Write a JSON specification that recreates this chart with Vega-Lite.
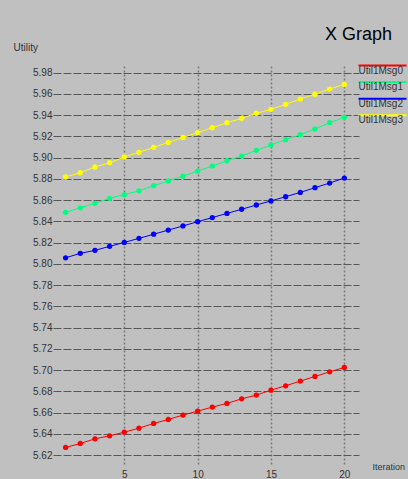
{
  "$schema": "https://vega.github.io/schema/vega-lite/v6.json",
  "width": 306,
  "height": 399,
  "autosize": {"type": "none"},
  "padding": {"left": 53, "top": 66, "right": 49, "bottom": 14},
  "background": "#c0c0c0",
  "title": {
    "text": "X Graph",
    "anchor": "end",
    "frame": "group",
    "font": "Liberation Sans",
    "fontSize": 18,
    "fontWeight": "normal",
    "color": "#000000",
    "baseline": "alphabetic",
    "offset": 0,
    "dx": 33,
    "dy": 16
  },
  "config": {
    "view": {"stroke": null},
    "font": "Liberation Sans"
  },
  "data": {
    "values": [
      {"s": "Util1Msg0", "i": 1, "v": 5.6271}, {"s": "Util1Msg0", "i": 2, "v": 5.6309}, {"s": "Util1Msg0", "i": 3, "v": 5.6352}, {"s": "Util1Msg0", "i": 4, "v": 5.6381}, {"s": "Util1Msg0", "i": 5, "v": 5.6415},
      {"s": "Util1Msg0", "i": 6, "v": 5.6453}, {"s": "Util1Msg0", "i": 7, "v": 5.6497}, {"s": "Util1Msg0", "i": 8, "v": 5.6535}, {"s": "Util1Msg0", "i": 9, "v": 5.6576}, {"s": "Util1Msg0", "i": 10, "v": 5.6613},
      {"s": "Util1Msg0", "i": 11, "v": 5.6651}, {"s": "Util1Msg0", "i": 12, "v": 5.6686}, {"s": "Util1Msg0", "i": 13, "v": 5.6729}, {"s": "Util1Msg0", "i": 14, "v": 5.6764}, {"s": "Util1Msg0", "i": 15, "v": 5.6811},
      {"s": "Util1Msg0", "i": 16, "v": 5.6852}, {"s": "Util1Msg0", "i": 17, "v": 5.6896}, {"s": "Util1Msg0", "i": 18, "v": 5.694}, {"s": "Util1Msg0", "i": 19, "v": 5.6983}, {"s": "Util1Msg0", "i": 20, "v": 5.7025},
      {"s": "Util1Msg1", "i": 1, "v": 5.8485}, {"s": "Util1Msg1", "i": 2, "v": 5.8528}, {"s": "Util1Msg1", "i": 3, "v": 5.857}, {"s": "Util1Msg1", "i": 4, "v": 5.8617}, {"s": "Util1Msg1", "i": 5, "v": 5.8651},
      {"s": "Util1Msg1", "i": 6, "v": 5.8688}, {"s": "Util1Msg1", "i": 7, "v": 5.8736}, {"s": "Util1Msg1", "i": 8, "v": 5.878}, {"s": "Util1Msg1", "i": 9, "v": 5.8826}, {"s": "Util1Msg1", "i": 10, "v": 5.8873},
      {"s": "Util1Msg1", "i": 11, "v": 5.8921}, {"s": "Util1Msg1", "i": 12, "v": 5.8971}, {"s": "Util1Msg1", "i": 13, "v": 5.9015}, {"s": "Util1Msg1", "i": 14, "v": 5.9069}, {"s": "Util1Msg1", "i": 15, "v": 5.9119},
      {"s": "Util1Msg1", "i": 16, "v": 5.9169}, {"s": "Util1Msg1", "i": 17, "v": 5.9216}, {"s": "Util1Msg1", "i": 18, "v": 5.927}, {"s": "Util1Msg1", "i": 19, "v": 5.9329}, {"s": "Util1Msg1", "i": 20, "v": 5.938},
      {"s": "Util1Msg2", "i": 1, "v": 5.8057}, {"s": "Util1Msg2", "i": 2, "v": 5.8099}, {"s": "Util1Msg2", "i": 3, "v": 5.8127}, {"s": "Util1Msg2", "i": 4, "v": 5.8165}, {"s": "Util1Msg2", "i": 5, "v": 5.8202},
      {"s": "Util1Msg2", "i": 6, "v": 5.824}, {"s": "Util1Msg2", "i": 7, "v": 5.8279}, {"s": "Util1Msg2", "i": 8, "v": 5.8318}, {"s": "Util1Msg2", "i": 9, "v": 5.8357}, {"s": "Util1Msg2", "i": 10, "v": 5.8397},
      {"s": "Util1Msg2", "i": 11, "v": 5.8436}, {"s": "Util1Msg2", "i": 12, "v": 5.8475}, {"s": "Util1Msg2", "i": 13, "v": 5.8514}, {"s": "Util1Msg2", "i": 14, "v": 5.8554}, {"s": "Util1Msg2", "i": 15, "v": 5.8593},
      {"s": "Util1Msg2", "i": 16, "v": 5.8632}, {"s": "Util1Msg2", "i": 17, "v": 5.8673}, {"s": "Util1Msg2", "i": 18, "v": 5.8717}, {"s": "Util1Msg2", "i": 19, "v": 5.8761}, {"s": "Util1Msg2", "i": 20, "v": 5.8808},
      {"s": "Util1Msg3", "i": 1, "v": 5.8818}, {"s": "Util1Msg3", "i": 2, "v": 5.8858}, {"s": "Util1Msg3", "i": 3, "v": 5.8912}, {"s": "Util1Msg3", "i": 4, "v": 5.8952}, {"s": "Util1Msg3", "i": 5, "v": 5.9006},
      {"s": "Util1Msg3", "i": 6, "v": 5.905}, {"s": "Util1Msg3", "i": 7, "v": 5.9097}, {"s": "Util1Msg3", "i": 8, "v": 5.9143}, {"s": "Util1Msg3", "i": 9, "v": 5.919}, {"s": "Util1Msg3", "i": 10, "v": 5.9236},
      {"s": "Util1Msg3", "i": 11, "v": 5.9282}, {"s": "Util1Msg3", "i": 12, "v": 5.9329}, {"s": "Util1Msg3", "i": 13, "v": 5.937}, {"s": "Util1Msg3", "i": 14, "v": 5.9418}, {"s": "Util1Msg3", "i": 15, "v": 5.9455},
      {"s": "Util1Msg3", "i": 16, "v": 5.9502}, {"s": "Util1Msg3", "i": 17, "v": 5.9552}, {"s": "Util1Msg3", "i": 18, "v": 5.9597}, {"s": "Util1Msg3", "i": 19, "v": 5.9646}, {"s": "Util1Msg3", "i": 20, "v": 5.9689}
    ]
  },
  "encoding": {
    "x": {
      "field": "i",
      "type": "quantitative",
      "scale": {"domain": [0.14, 21.0], "nice": false, "zero": false},
      "axis": {
        "values": [5, 10, 15, 20],
        "title": "Iteration",
        "grid": true,
        "gridColor": "#7a7a7a",
        "gridDash": [2, 2],
        "gridWidth": 1.5,
        "ticks": false,
        "domain": false,
        "labelPadding": 4,
        "labelBaseline": "top",
        "labelFontSize": 10,
        "labelColor": "#333333",
        "labelFont": "Liberation Sans",
        "titleFont": "Liberation Sans",
        "titleFontSize": 9,
        "titleFontWeight": "normal",
        "titleColor": "#333333",
        "titleX": 319,
        "titleY": 1,
        "titleAlign": "left",
        "titleBaseline": "middle",
        "titleAnchor": null
      }
    },
    "y": {
      "field": "v",
      "type": "quantitative",
      "scale": {"domain": [5.6106, 5.9863], "nice": false, "zero": false},
      "axis": {
        "values": [5.62, 5.64, 5.66, 5.68, 5.70, 5.72, 5.74, 5.76, 5.78, 5.80, 5.82, 5.84, 5.86, 5.88, 5.90, 5.92, 5.94, 5.96, 5.98],
        "format": ".2f",
        "title": "Utility",
        "grid": true,
        "gridColor": "#585858",
        "gridDash": [8, 2],
        "gridWidth": 1,
        "ticks": false,
        "domain": false,
        "labelPadding": 1,
        "labelFontSize": 10,
        "labelColor": "#333333",
        "labelFont": "Liberation Sans",
        "titleFont": "Liberation Sans",
        "titleFontSize": 10,
        "titleFontWeight": "normal",
        "titleColor": "#333333",
        "titleAngle": 0,
        "titleX": -40,
        "titleY": -19,
        "titleAlign": "left",
        "titleBaseline": "middle",
        "titleAnchor": null
      }
    },
    "color": {
      "field": "s",
      "type": "nominal",
      "scale": {
        "domain": ["Util1Msg0", "Util1Msg1", "Util1Msg2", "Util1Msg3"],
        "range": ["#ff0000", "#00ff7f", "#0000ff", "#ffff00"]
      },
      "legend": {
        "title": null,
        "orient": "none",
        "legendX": 306,
        "legendY": -5.5,
        "padding": 0,
        "symbolType": "M-24,0H24",
        "symbolSize": 4,
        "symbolStrokeWidth": 2,
        "symbolOffset": 18.5,
        "labelOffset": -29,
        "labelBaseline": "top",
        "labelFont": "Liberation Sans",
        "labelFontSize": 10,
        "labelColor": "#333333",
        "rowPadding": 1.6
      }
    }
  },
  "layer": [
    {"mark": {"type": "line", "strokeWidth": 1}},
    {"mark": {"type": "point", "filled": true, "size": 28, "opacity": 1}}
  ]
}
